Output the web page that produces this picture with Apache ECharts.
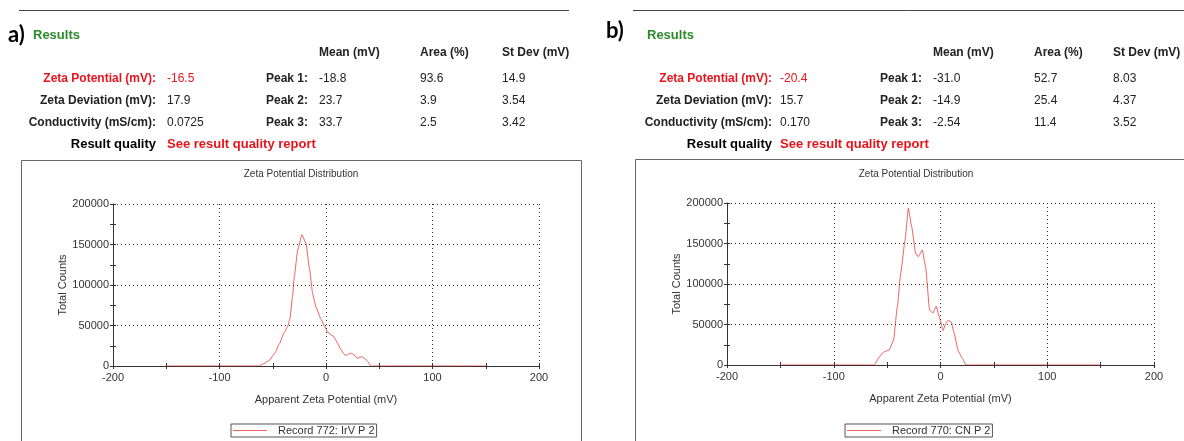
<!DOCTYPE html>
<html>
<head>
<meta charset="utf-8">
<title>Zeta Potential Results</title>
<script src="https://cdn.jsdelivr.net/npm/echarts@6/dist/echarts.min.js"></script>
<style>
  html, body { margin: 0; padding: 0; background: #fff; }
  #chart { width: 1184px; height: 441px; }
</style>
</head>
<body>
<div id="chart"></div>
<script>
// ---- Sample a) : record 772, IrV P 2 ----
const zetaA = [-150, -63.5, -58, -53.3, -48, -43.9, -39.2, -36, -33.9, -31.5, -29.8, -26.6, -22.6,
  -18.8, -15.7, -12.5, -9.4, -4.7, -1.6, 1.6, 6.3, 8.3, 11, 13.6, 17.2, 19.5, 22.5, 25.5, 29.5,
  32.5, 35.5, 38.5, 42.5, 150];
const countsA = [0, 0, 3000, 7000, 16000, 27000, 41500, 49000, 58000, 85000, 110000, 143000, 162000,
  151500, 122000, 89000, 72500, 58000, 49500, 41500, 37500, 34000, 28000, 21000, 14300, 13200, 15800,
  14800, 9600, 11200, 10500, 6500, 0, 0];

// ---- Sample b) : record 770, CN P 2 ----
const zetaB = [-150, -62, -57.5, -53.7, -48.1, -44.1, -40.4, -37.3, -33.2, -30.1, -27, -23.3, -20.8,
  -17.1, -14, -10.2, -7.1, -4, -1.6, 2.5, 4.7, 7.1, 10.2, 12.3, 16.9, 20.4, 23.9, 150];
const countsB = [0, 0, 9500, 15700, 18600, 30200, 71600, 113000, 154000, 193400, 170600, 137900, 133700,
  142000, 121300, 67500, 64200, 72500, 61300, 42600, 50900, 55000, 53000, 41200, 16500, 8240, 0, 0];

// ---- Result tables ----
const tableHeads = ['Mean (mV)', 'Area (%)', 'St Dev (mV)'];
const summaryLabels = ['Zeta Potential (mV):', 'Zeta Deviation (mV):', 'Conductivity (mS/cm):'];
const peakLabels = ['Peak 1:', 'Peak 2:', 'Peak 3:'];
const summaryA = ['-16.5', '17.9', '0.0725'];
const peakMeanA = ['-18.8', '23.7', '33.7'];
const peakAreaA = ['93.6', '3.9', '2.5'];
const peakSdA = ['14.9', '3.54', '3.42'];
const summaryB = ['-20.4', '15.7', '0.170'];
const peakMeanB = ['-31.0', '-14.9', '-2.54'];
const peakAreaB = ['52.7', '25.4', '11.4'];
const peakSdB = ['8.03', '4.37', '3.52'];

const legendA = 'Record 772: IrV P 2';
const legendB = 'Record 770: CN P 2';
const xTitle = 'Apparent Zeta Potential (mV)';
const yTitle = 'Total Counts';
const plotTitle = 'Zeta Potential Distribution';

const FONT = '"Liberation Sans", Arial, sans-serif';
const RED = '#e8141c';
const GREEN = '#2b8a2b';
const INK = '#222';
const AXIS = '#333';

function txt(x, y, s, font, fill, align) {
  return {
    type: 'text', x: x, y: y, silent: true,
    style: { text: s, font: font + ' ' + FONT, fill: fill || INK, align: align || 'left', verticalAlign: 'middle' }
  };
}
function hline(x1, x2, y, color) {
  return { type: 'line', silent: true, shape: { x1: x1, y1: y, x2: x2, y2: y }, style: { stroke: color, lineWidth: 1 } };
}

// Builds the "Results" block of one measurement
function resultsBlock(p) {
  const els = [];
  els.push({
    type: 'text', x: p.tagX, y: p.tagY, silent: true,
    style: { text: p.tag, font: 'bold 22px Lato, "Open Sans", sans-serif', fill: '#000', verticalAlign: 'middle' }
  });
  els.push(txt(p.resX, 35, 'Results', 'bold 13px', GREEN));
  tableHeads.forEach((h, i) => els.push(txt(p.cols[i], 53, h, 'bold 12px', INK)));
  const rows = [79, 101, 123];
  summaryLabels.forEach((lab, i) => {
    const c = i === 0 ? RED : INK;
    els.push(txt(p.labR, rows[i], lab, 'bold 12px', c, 'right'));
    els.push(txt(p.valX, rows[i], p.summary[i], '12px', c));
    els.push(txt(p.peakX, rows[i], peakLabels[i], 'bold 12px', INK));
    els.push(txt(p.cols[0], rows[i], p.mean[i], '12px', INK));
    els.push(txt(p.cols[1], rows[i], p.area[i], '12px', INK));
    els.push(txt(p.cols[2], rows[i], p.sd[i], '12px', INK));
  });
  els.push(txt(p.labR, 144, 'Result quality', 'bold 13px', '#000', 'right'));
  els.push(txt(p.valX, 144, 'See result quality report', 'bold 13px', RED));
  return els;
}

const graphics = [].concat(
  [hline(19, 569, 10.5, '#444'), hline(633, 1184, 10.5, '#444')],
  resultsBlock({ tag: 'a)', tagX: 8, tagY: 35, resX: 33, cols: [319, 420, 502], labR: 156, valX: 167, peakX: 266,
    summary: summaryA, mean: peakMeanA, area: peakAreaA, sd: peakSdA }),
  resultsBlock({ tag: 'b)', tagX: 606, tagY: 31, resX: 647, cols: [933, 1034, 1113], labR: 772, valX: 780, peakX: 880,
    summary: summaryB, mean: peakMeanB, area: peakAreaB, sd: peakSdB }),
  [
    { type: 'rect', silent: true, shape: { x: 21.5, y: 160.5, width: 560, height: 300 }, style: { fill: 'none', stroke: '#666', lineWidth: 1 } },
    { type: 'rect', silent: true, shape: { x: 635.5, y: 159.5, width: 580, height: 300 }, style: { fill: 'none', stroke: '#666', lineWidth: 1 } },
    txt(301, 174, plotTitle, '10px', '#333', 'center'),
    txt(916, 174, plotTitle, '10px', '#333', 'center')
  ]
);

const axisLabelStyle = { color: '#333', fontSize: 11, fontFamily: FONT };
const dotted = { color: '#333', width: 1, type: [1, 3] };
const tickStyle = { color: AXIS, width: 1 };

function mainX(gi) {
  return {
    type: 'value', gridIndex: gi, min: -200, max: 200, interval: 100, position: 'bottom',
    name: xTitle, nameLocation: 'middle', nameGap: 28,
    nameTextStyle: { color: '#333', fontSize: 11, fontFamily: FONT },
    axisLine: { show: true, onZero: false, lineStyle: { color: AXIS, width: 1 } },
    axisTick: { show: true, length: 3, lineStyle: tickStyle },
    minorTick: { show: true, splitNumber: 2, length: 3, lineStyle: tickStyle },
    axisLabel: Object.assign({ margin: 6 }, axisLabelStyle),
    splitLine: { show: true, lineStyle: dotted }
  };
}
function innerX(gi) {
  return {
    type: 'value', gridIndex: gi, min: -200, max: 200, interval: 100, position: 'bottom',
    axisLine: { show: false, onZero: false }, axisLabel: { show: false }, splitLine: { show: false },
    axisTick: { show: true, inside: true, length: 3, lineStyle: tickStyle },
    minorTick: { show: true, splitNumber: 2, length: 3, lineStyle: tickStyle }
  };
}
function mainY(gi, gap) {
  return {
    type: 'value', gridIndex: gi, min: 0, max: 200000, interval: 50000, position: 'left',
    name: yTitle, nameLocation: 'middle', nameGap: gap,
    nameTextStyle: { color: '#333', fontSize: 11, fontFamily: FONT },
    axisLine: { show: true, onZero: false, lineStyle: { color: AXIS, width: 1 } },
    axisTick: { show: true, length: 3, lineStyle: tickStyle },
    minorTick: { show: true, splitNumber: 2, length: 3, lineStyle: tickStyle },
    axisLabel: Object.assign({ margin: 4, formatter: v => String(v) }, axisLabelStyle),
    splitLine: { show: true, lineStyle: dotted }
  };
}
function innerY(gi) {
  return {
    type: 'value', gridIndex: gi, min: 0, max: 200000, interval: 50000, position: 'left',
    axisLine: { show: false, onZero: false }, axisLabel: { show: false }, splitLine: { show: false },
    axisTick: { show: true, inside: true, length: 3, lineStyle: tickStyle },
    minorTick: { show: true, splitNumber: 2, length: 3, lineStyle: tickStyle }
  };
}

const LINE = 'rgba(228,0,0,0.62)';
function curve(name, xs, ys, axisIdx) {
  return {
    type: 'line', name: name, xAxisIndex: axisIdx, yAxisIndex: axisIdx,
    data: xs.map((x, i) => [x, ys[i]]),
    showSymbol: false, symbol: 'none', smooth: 0.15, smoothMonotone: 'x',
    color: LINE, lineStyle: { color: LINE, width: 1 }, itemStyle: { color: LINE },
    z: 5
  };
}
function legendAt(name, left) {
  return {
    data: [name], left: left, top: 424, orient: 'horizontal',
    icon: 'rect', itemWidth: 34, itemHeight: 1,
    padding: [1, 2, 1, 2], borderColor: '#555', borderWidth: 1, borderRadius: 0,
    textStyle: { color: '#333', fontSize: 11, fontFamily: FONT, padding: [0, 0, 0, 6] },
    selectedMode: false
  };
}

const chart = echarts.init(document.getElementById('chart'));
chart.setOption({
  animation: false,
  backgroundColor: '#fff',
  textStyle: { fontFamily: FONT },
  grid: [
    { left: 113, top: 204, width: 426, height: 162 },
    { left: 727, top: 203, width: 427, height: 162 }
  ],
  xAxis: [mainX(0), mainX(1), innerX(0), innerX(1)],
  yAxis: [mainY(0, 43), mainY(1, 42), innerY(0), innerY(1)],
  legend: [legendAt(legendA, 231), legendAt(legendB, 845)],
  series: [
    curve(legendA, zetaA, countsA, 0),
    curve(legendB, zetaB, countsB, 1)
  ],
  graphic: graphics
});
</script>
</body>
</html>
